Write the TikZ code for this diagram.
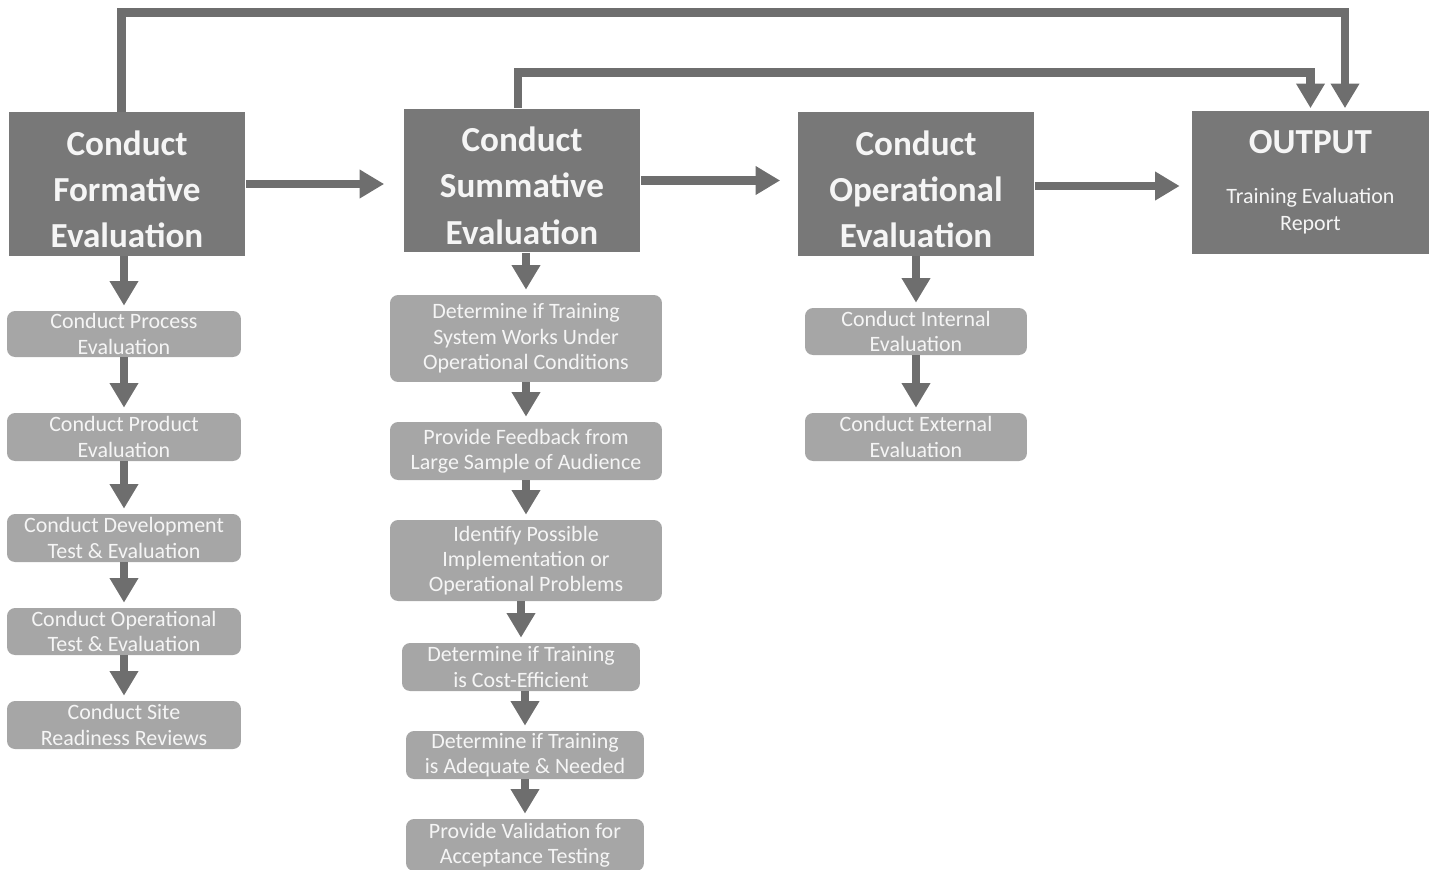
\documentclass[tikz,border=0pt]{standalone}
\usepackage{fontspec}
\setmainfont{Carlito}
\usetikzlibrary{arrows.meta}

\definecolor{headgray}{gray}{0.47}
\definecolor{stepgray}{gray}{0.65}
\definecolor{linegray}{gray}{0.43}
\definecolor{textgray}{gray}{0.96}

\newcommand{\headlift}{\rule{0pt}{20pt}}

\tikzset{
  headbox/.style={fill=headgray, text=textgray, align=center, inner sep=0pt,
    minimum width=4.74cm, minimum height=2.88cm, font=\bfseries\fontsize{20}{26.4}\selectfont},
  subbox/.style={fill=stepgray, rounded corners=0.16cm, text=textgray, align=center,
    inner sep=0pt, font=\fontsize{12.5}{14.4}\selectfont},
  flow/.style={draw=linegray, line width=5.1pt, -{Triangle[length=14pt,width=15.5pt]}, shorten >=0.1cm},
}

\begin{document}
\begin{tikzpicture}[x=0.02cm, y=-0.02cm]
  \useasboundingbox (0,0) rectangle (1433,869);
  \clip (0,0) rectangle (1433,869);

  % main stages
  \node[headbox] (form) at (127,184) {\headlift Conduct\\Formative\\Evaluation};
  \node[headbox] (summ) at (522,180.5) {\headlift Conduct\\Summative\\Evaluation};
  \node[headbox] (oper) at (916,184) {\headlift Conduct\\Operational\\Evaluation};
  \node[headbox, font=\fontsize{12.5}{15.3}\selectfont] (out) at (1310.5,182.5)
    {{\bfseries\fontsize{20}{24}\selectfont OUTPUT}\\[13pt]Training Evaluation\\Report};

  % formative steps
  \node[subbox, minimum width=4.68cm, minimum height=0.92cm] (f1) at (124,334) {Conduct Process\\Evaluation};
  \node[subbox, minimum width=4.68cm, minimum height=0.96cm] (f2) at (124,437) {Conduct Product\\Evaluation};
  \node[subbox, minimum width=4.68cm, minimum height=0.96cm] (f3) at (124,538) {Conduct Development\\Test \& Evaluation};
  \node[subbox, minimum width=4.68cm, minimum height=0.94cm] (f4) at (124,631.5) {Conduct Operational\\Test \& Evaluation};
  \node[subbox, minimum width=4.68cm, minimum height=0.96cm] (f5) at (124,725) {Conduct Site\\Readiness Reviews};

  % summative steps
  \node[subbox, minimum width=5.44cm, minimum height=1.74cm] (s1) at (526,338.5) {Determine if Training\\System Works Under\\Operational Conditions};
  \node[subbox, minimum width=5.44cm, minimum height=1.16cm] (s2) at (526,451) {Provide Feedback from\\Large Sample of Audience};
  \node[subbox, minimum width=5.44cm, minimum height=1.62cm] (s3) at (526,560.5) {Identify Possible\\Implementation or\\Operational Problems};
  \node[subbox, minimum width=4.76cm, minimum height=0.96cm] (s4) at (521,667) {Determine if Training\\is Cost-Efficient};
  \node[subbox, minimum width=4.76cm, minimum height=0.96cm] (s5) at (525,755) {Determine if Training\\is Adequate \& Needed};
  \node[subbox, minimum width=4.76cm, minimum height=1.04cm] (s6) at (525,845) {Provide Validation for\\Acceptance Testing};

  % operational steps
  \node[subbox, minimum width=4.44cm, minimum height=0.94cm] (o1) at (916,331.5) {Conduct Internal\\Evaluation};
  \node[subbox, minimum width=4.44cm, minimum height=0.96cm] (o2) at (916,437) {Conduct External\\Evaluation};

  % downward arrows
  \foreach \a/\b in {form/f1, f1/f2, f2/f3, f3/f4, f4/f5,
                     summ/s1, s1/s2, s2/s3, s3/s4, s4/s5, s5/s6,
                     oper/o1, o1/o2}
    \draw[flow] (\b.north |- \a.south) -- (\b.north);

  % stage to stage
  \draw[flow, shorten >=0.38cm] (form.east) -- (form.east -| summ.west);
  \draw[flow, shorten >=0.34cm] (summ.east) -- (summ.east -| oper.west);
  \draw[flow, shorten >=0.24cm] ([yshift=-0.04cm]oper.east) -- ([yshift=-0.04cm]oper.east -| out.west);

  % loops to output
  \coordinate (topA) at (700,12.5);
  \coordinate (topB) at (900,72.5);
  \draw[flow, shorten >=0.04cm] ([xshift=-0.11cm]form.north) |- (topA) -| ([xshift=0.69cm]out.north);
  \draw[flow, shorten >=0.04cm] ([xshift=-0.08cm]summ.north) |- (topB) -| (out.north);
\end{tikzpicture}
\end{document}
